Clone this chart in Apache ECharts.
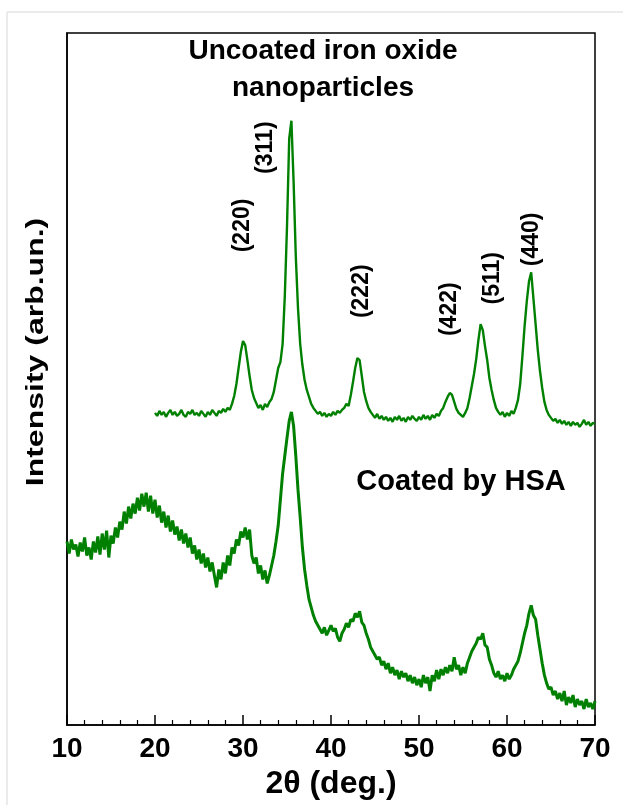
<!DOCTYPE html>
<html>
<head>
<meta charset="utf-8">
<script src="https://cdn.jsdelivr.net/npm/echarts@6/dist/echarts.min.js"></script>
<style>
  html, body { margin: 0; padding: 0; background: #fff; }
  #xrd { width: 623px; height: 805px; }
</style>
</head>
<body>
<div id="xrd"></div>
<script>
// 2theta sampling of both scans
var angleStep = 0.25;
var uncoatedStart = 20;
var coatedStart = 10;

// Uncoated iron oxide nanoparticles, 20..70 deg (arb. units)
var uncoated = [
  313,310,315,311,314,309,313,316,311,314,310,312,316,311,309,314,312,316,311,313,
  310,315,312,309,314,311,316,313,310,315,313,317,314,318,316,322,330,342,358,374,
  385,381,366,350,336,328,323,318,321,316,322,319,324,327,334,346,358,364,382,430,
  500,588,606,545,470,418,382,361,346,336,329,322,318,315,312,314,310,313,309,312,
  310,314,311,315,313,316,318,322,320,331,344,358,368,366,350,334,325,318,314,311,
  308,312,307,310,306,309,305,308,304,309,306,310,305,308,304,309,306,310,307,305,
  309,306,311,307,310,306,311,308,312,310,315,318,324,329,333,331,324,317,313,311,
  309,313,318,328,340,352,367,386,402,396,380,366,348,336,326,318,314,311,314,309,
  313,310,315,312,318,326,342,370,400,425,445,454,428,402,376,355,338,324,316,311,
  308,305,307,303,306,302,305,301,304,300,304,301,303,299,302,306,301,304,300,303,
  302
];

// Coated by HSA, 10..70 deg (arb. units)
var coated = [
  184,172,186,176,181,169,183,174,188,170,178,166,184,173,189,171,192,176,195,168,
  190,182,198,188,204,196,214,202,219,207,222,212,228,215,232,219,233,214,230,212,
  226,208,220,203,214,198,210,194,205,191,199,185,196,182,192,178,188,172,180,166,
  176,162,172,158,168,154,163,150,138,156,146,163,152,170,160,178,172,186,180,194,
  188,198,186,196,170,162,168,152,160,146,155,142,150,160,170,184,200,226,252,270,
  288,305,314,300,270,236,208,178,156,140,126,118,110,104,100,96,92,98,90,95,
  100,94,97,88,84,92,96,102,98,106,104,112,108,114,103,100,92,86,78,74,
  70,66,68,60,64,56,62,52,58,50,55,46,54,48,52,44,50,42,48,40,
  46,38,50,42,48,34,50,44,55,46,56,50,58,52,60,54,68,56,60,50,
  58,52,62,68,74,78,82,88,86,92,80,78,66,60,52,48,54,46,50,44,
  52,46,50,56,60,64,72,82,92,100,112,120,110,106,90,76,62,50,42,36,
  38,30,34,26,32,24,34,20,28,22,30,18,26,20,24,16,26,18,22,16,
  24
];

// Miller indices written above the uncoated peaks
var peakLabels = ['(220)', '(311)', '(222)', '(422)', '(511)', '(440)'];
var peakLabelAngle = [30.0, 32.6, 43.5, 53.5, 58.4, 62.8];
var peakLabelLevel = [501, 579, 435, 417, 448, 487];

var xTicks = [10, 20, 30, 40, 50, 60, 70];

function toPairs(start, vals) {
  return vals.map(function (v, i) {
    return [start + i * angleStep, v];
  });
}

var font = "'Liberation Sans', Arial, sans-serif";
var green = '#008000';

var xrdChart = echarts.init(document.getElementById('xrd'), null, { renderer: 'canvas' });

var option = {
  animation: false,
  backgroundColor: '#fff',
  grid: {
    left: 67,
    right: 28,
    top: 33,
    bottom: 78,
    show: true,
    borderColor: '#000',
    borderWidth: 1.5,
    backgroundColor: 'transparent'
  },
  xAxis: {
    type: 'value',
    min: xTicks[0],
    max: xTicks[xTicks.length - 1],
    interval: 10,
    name: '2\u03b8 (deg.)',
    nameLocation: 'middle',
    nameGap: 43,
    nameTextStyle: { fontFamily: font, fontWeight: 'bold', fontSize: 32, color: '#000' },
    axisLine: { lineStyle: { color: '#000', width: 1.5 } },
    axisTick: { inside: true, length: 10, lineStyle: { color: '#000', width: 1.5 } },
    minorTick: { show: true, splitNumber: 5, length: 5, lineStyle: { color: '#000', width: 1.2 } },
    axisLabel: { fontFamily: font, fontWeight: 'bold', fontSize: 28, color: '#000', margin: 10 },
    splitLine: { show: false }
  },
  yAxis: {
    type: 'value',
    min: 0,
    max: 694,
    axisLine: { show: true, lineStyle: { color: '#000', width: 1.5 } },
    axisTick: { show: false },
    axisLabel: { show: false },
    splitLine: { show: false }
  },
  series: [{
    name: 'Uncoated',
    type: 'line',
    showSymbol: false,
    data: toPairs(uncoatedStart, uncoated),
    lineStyle: { color: green, width: 2.4 }
  }, {
    name: 'Coated by HSA',
    type: 'line',
    showSymbol: false,
    data: toPairs(coatedStart, coated),
    lineStyle: { color: green, width: 3 }
  }]
};

xrdChart.setOption(option);

// text annotations
var labels = [{
  type: 'line',
  shape: { x1: 7, y1: 12, x2: 623, y2: 12 },
  style: { stroke: '#e4e4e4', lineWidth: 1.5 }
}, {
  type: 'line',
  shape: { x1: 7, y1: 12, x2: 7, y2: 805 },
  style: { stroke: '#e4e4e4', lineWidth: 1.5 }
}, {
  type: 'text',
  x: 323, y: 70,
  style: {
    text: 'Uncoated iron oxide\nnanoparticles',
    fontFamily: font, fontWeight: 'bold', fontSize: 28, lineHeight: 37,
    fill: '#000', align: 'center', verticalAlign: 'middle'
  }
}, {
  type: 'text',
  x: 461, y: 482,
  style: {
    text: 'Coated by HSA',
    fontFamily: font, fontWeight: 'bold', fontSize: 29,
    fill: '#000', align: 'center', verticalAlign: 'middle'
  }
}, {
  type: 'text',
  x: 36, y: 352,
  rotation: Math.PI / 2,
  scaleY: 0.75,
  style: {
    text: 'Intensity (arb.un.)',
    fontFamily: font, fontWeight: 'bold', fontSize: 32,
    fill: '#000', align: 'center', verticalAlign: 'middle'
  }
}];

peakLabels.forEach(function (txt, i) {
  var p = xrdChart.convertToPixel({ gridIndex: 0 }, [peakLabelAngle[i], peakLabelLevel[i]]);
  labels.push({
    type: 'text',
    x: p[0], y: p[1],
    rotation: Math.PI / 2,
    style: {
      text: txt,
      fontFamily: font, fontWeight: 'bold', fontSize: 23,
      fill: '#000', align: 'center', verticalAlign: 'middle'
    }
  });
});

xrdChart.setOption({ graphic: labels });
</script>
</body>
</html>
